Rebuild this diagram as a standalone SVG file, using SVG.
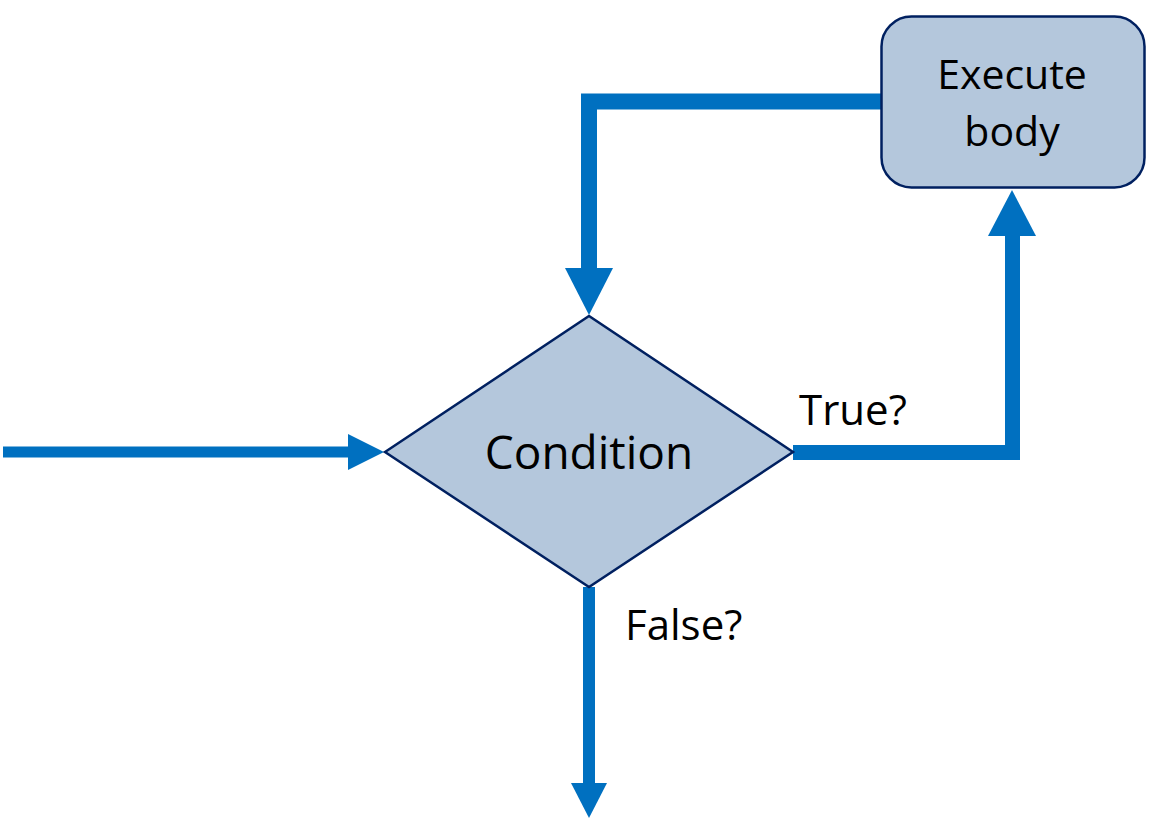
<svg xmlns="http://www.w3.org/2000/svg" width="1159" height="833" viewBox="0 0 1159 833">
  <style>
    .shape { fill: #B4C7DC; stroke: #002060; stroke-width: 2.5; }
    .label { font-family: "Open Sans", "Liberation Sans", sans-serif; fill: #000000; }
    .flow { fill: none; stroke: #0070C0; stroke-linejoin: miter; stroke-linecap: butt; }
    .head { fill: #0070C0; }
  </style>
  <rect width="1159" height="833" fill="#FFFFFF"/>

  <g id="connectors">
    <!-- entry into the condition -->
    <line class="flow" x1="3" y1="452" x2="350" y2="452" stroke-width="11"/>
    <polygon class="head" points="348,434 384,452 348,470"/>
    <!-- true branch up to the body -->
    <polyline class="flow" points="793,452.5 1012.5,452.5 1012.5,233" stroke-width="15"/>
    <polygon class="head" points="988,236 1012,190 1036,236"/>
    <!-- loop back from body to condition -->
    <polyline class="flow" points="882,101.5 589,101.5 589,270" stroke-width="16"/>
    <polygon class="head" points="565,268 613,268 589,315"/>
    <!-- false branch exit -->
    <line class="flow" x1="589" y1="587" x2="589" y2="785" stroke-width="12"/>
    <polygon class="head" points="571,783 607,783 589,818"/>
  </g>

  <g id="condition">
    <polygon class="shape" points="385,452 589,316 793,452 589,587"/>
    <text class="label" x="589" y="469" font-size="46" text-anchor="middle">Condition</text>
  </g>

  <g id="execute-body">
    <rect class="shape" x="881.5" y="16.5" width="263" height="171" rx="30" ry="30"/>
    <text class="label" x="1012" y="89" font-size="41" text-anchor="middle">Execute</text>
    <text class="label" x="1012" y="146" font-size="41" text-anchor="middle">body</text>
  </g>

  <g id="labels">
    <text class="label" x="799" y="425" font-size="42">True?</text>
    <text class="label" x="625" y="640" font-size="42">False?</text>
  </g>
</svg>
